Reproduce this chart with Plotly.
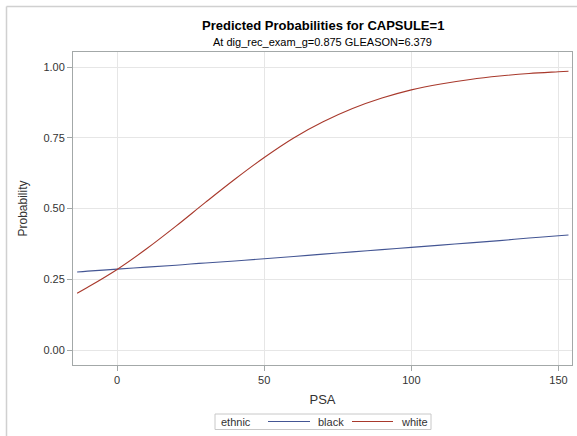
import plotly.graph_objects as go

# PSA values at which the predicted probabilities are read
psa = [-13.6, -10, 0, 10, 20, 30, 40, 50, 60, 70, 80, 90, 100,
       110, 120, 130, 140, 150, 153.4]

# Predicted probability of CAPSULE=1 by ethnic group
prob_black = [0.276, 0.279, 0.286, 0.293, 0.300, 0.308, 0.315, 0.323, 0.331,
              0.339, 0.347, 0.355, 0.363, 0.371, 0.379, 0.387, 0.396, 0.404,
              0.407]
prob_white = [0.201, 0.222, 0.285, 0.358, 0.438, 0.522, 0.604, 0.681, 0.750,
              0.807, 0.854, 0.891, 0.920, 0.941, 0.957, 0.969, 0.978, 0.984,
              0.986]

groups = ["black", "white"]
x_ticks = [0, 50, 100, 150]
y_ticks = [0.0, 0.25, 0.5, 0.75, 1.0]
y_tick_text = ["0.00", "0.25", "0.50", "0.75", "1.00"]

FONT = "Liberation Sans, Arial, sans-serif"
BLUE = "#445694"
RED = "#A8392C"
GRID = "#E6E6E6"
FRAME = "#A3A8A8"
TEXT = "#333333"

# plot-area geometry in pixels (used to place the decorations)
W, H = 577, 436
L, R, T, B = 73, 572, 52, 365


def px(x):
    return (x - L) / (R - L)


def py(y):
    return (B - y) / (B - T)


fig = go.Figure()
fig.add_trace(go.Scatter(x=psa, y=prob_black, mode="lines", name=groups[0],
                         line=dict(color=BLUE, width=1.1, shape="spline")))
fig.add_trace(go.Scatter(x=psa, y=prob_white, mode="lines", name=groups[1],
                         line=dict(color=RED, width=1.1, shape="spline")))

axis_common = dict(
    showline=True, linecolor=FRAME, linewidth=1, mirror=True,
    showgrid=True, gridcolor=GRID, gridwidth=1, zeroline=False,
    ticks="outside", ticklen=5, tickcolor=FRAME,
    tickfont=dict(family=FONT, size=11, color=TEXT),
    automargin=False,
)

legend_font = dict(family=FONT, size=11, color=TEXT)
legend_y = py(421.5)

annotations = [
    dict(text="<b>Predicted Probabilities for CAPSULE=1</b>",
         xref="paper", yref="paper", x=0.5, y=py(25),
         xanchor="center", yanchor="middle", showarrow=False,
         font=dict(family=FONT, size=13, color="#000000")),
    dict(text="At dig_rec_exam_g=0.875 GLEASON=6.379",
         xref="paper", yref="paper", x=0.5, y=py(42),
         xanchor="center", yanchor="middle", showarrow=False,
         font=dict(family=FONT, size=11, color="#000000")),
    # legend texts
    dict(text="ethnic", xref="paper", yref="paper", x=px(219), y=legend_y,
         xanchor="left", yanchor="middle", showarrow=False, font=legend_font),
    dict(text=groups[0], xref="paper", yref="paper", x=px(316), y=legend_y,
         xanchor="left", yanchor="middle", showarrow=False, font=legend_font),
    dict(text=groups[1], xref="paper", yref="paper", x=px(399), y=legend_y,
         xanchor="left", yanchor="middle", showarrow=False, font=legend_font),
]

shapes = [
    # outer frame around the graph (top and left edges)
    dict(type="line", xref="paper", yref="paper",
         x0=px(6.5), x1=px(W + 5), y0=py(6.5), y1=py(6.5),
         line=dict(color="#D0D0D0", width=1.5)),
    dict(type="line", xref="paper", yref="paper",
         x0=px(6.5), x1=px(6.5), y0=py(6.5), y1=py(H + 5),
         line=dict(color="#D0D0D0", width=1.5)),
    # legend box and line samples
    dict(type="rect", xref="paper", yref="paper",
         x0=px(215), x1=px(431), y0=py(414), y1=py(429.5),
         line=dict(color="#C8C8C8", width=1), fillcolor="white"),
    dict(type="line", xref="paper", yref="paper",
         x0=px(268), x1=px(310), y0=legend_y, y1=legend_y,
         line=dict(color=BLUE, width=1.1)),
    dict(type="line", xref="paper", yref="paper",
         x0=px(352), x1=px(393), y0=legend_y, y1=legend_y,
         line=dict(color=RED, width=1.1)),
]

fig.update_layout(
    width=W, height=H,
    margin=dict(l=L, r=W - R, t=T, b=H - B, autoexpand=False),
    paper_bgcolor="white", plot_bgcolor="white",
    font=dict(family=FONT, color=TEXT),
    xaxis=dict(range=[-15, 154.6], tickvals=x_ticks,
               title=dict(text="PSA", font=dict(family=FONT, size=13),
                          standoff=9),
               **axis_common),
    yaxis=dict(range=[-0.053, 1.054], tickvals=y_ticks, ticktext=y_tick_text,
               title=dict(text="Probability", font=dict(family=FONT, size=12),
                          standoff=13),
               **axis_common),
    showlegend=False,
    annotations=annotations,
    shapes=shapes,
)

fig.write_html("out.html")
